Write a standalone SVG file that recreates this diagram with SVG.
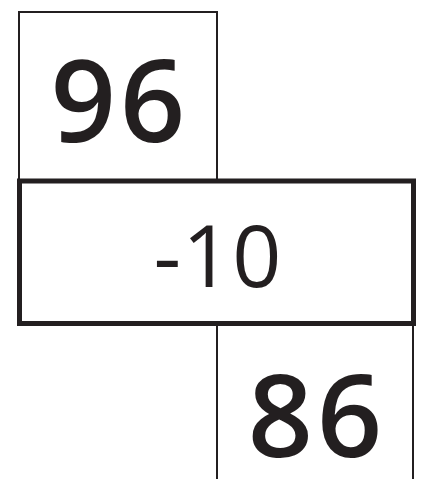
<svg xmlns="http://www.w3.org/2000/svg" width="424" height="479" viewBox="0 0 424 479">
<style>
.thin{fill:none;stroke:#231f20;stroke-width:2}
.thick{fill:none;stroke:#231f20;stroke-width:5}
.num{font-family:"Open Sans","Noto Sans",sans-serif;fill:#231f20;text-anchor:middle}
.b{font-weight:650;font-size:114px;letter-spacing:4px}
.r{font-weight:500;font-size:86px;letter-spacing:1px}
</style>
<rect width="424" height="479" fill="#fff"/>
<g id="top">
<rect class="thin" x="19" y="12" width="198" height="169"/>
<text class="num b" x="120" y="142">96</text>
</g>
<g id="bottom">
<path class="thin" d="M217 323V479M413 323V479"/>
<text class="num b" x="317" y="457">86</text>
</g>
<g id="middle">
<rect class="thick" x="19.5" y="181" width="394" height="142.5"/>
<text class="num r" x="218" y="287">-10</text>
</g>
<g id="connectors"/>
</svg>
